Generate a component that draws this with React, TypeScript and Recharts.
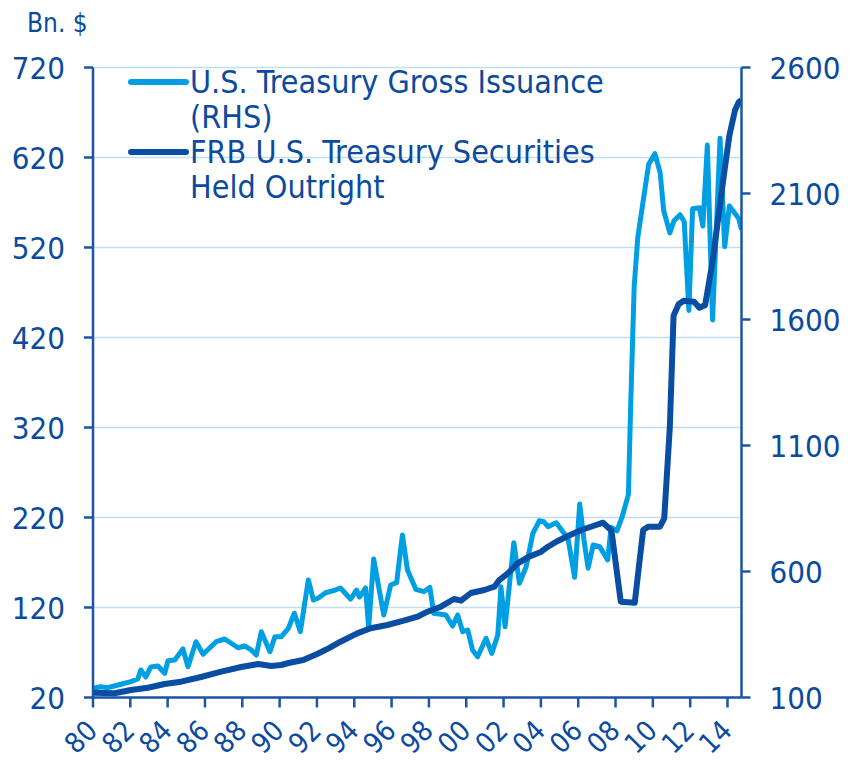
import React from 'react';
import { LineChart, Line, XAxis, YAxis, CartesianGrid, Legend } from 'recharts';

const FONT = "'DejaVu Sans Condensed', 'DejaVu Sans', sans-serif";
const TEXT = '#0b4a9e';
const AXIS = '#1a56a5';
const LIGHT = '#009fe3';
const DARK = '#0a4ea3';
const GRID = '#bfe0f2';

// x-axis ticks (years) and labels
const xTicks = [1980, 1982, 1984, 1986, 1988, 1990, 1992, 1994, 1996, 1998, 2000, 2002, 2004, 2006, 2008, 2010, 2012, 2014];
const leftTicks = [20, 120, 220, 320, 420, 520, 620, 720];
const rightTicks = [100, 600, 1100, 1600, 2100, 2600];

// U.S. Treasury Gross Issuance
const issuanceYears = [
  1980.0, 1980.41, 1980.79, 1981.15, 1981.49, 1982.03, 1982.4, 1982.56, 1982.83, 1983.1,
  1983.48, 1983.84, 1984.02, 1984.38, 1984.82, 1985.09, 1985.52, 1985.9, 1986.6, 1987.06,
  1987.77, 1988.14, 1988.48, 1988.75, 1989.02, 1989.48, 1989.75, 1990.09, 1990.47, 1990.79,
  1991.11, 1991.54, 1991.81, 1992.08, 1992.46, 1992.89, 1993.26, 1993.8, 1994.12, 1994.28,
  1994.61, 1994.77, 1995.04, 1995.58, 1995.95, 1996.27, 1996.58, 1996.85, 1997.3, 1997.73,
  1998.05, 1998.26, 1998.91, 1999.27, 1999.54, 1999.81, 2000.08, 2000.34, 2000.61, 2001.06,
  2001.37, 2001.69, 2001.86, 2002.08, 2002.55, 2002.85, 2003.21, 2003.57, 2003.92, 2004.16,
  2004.38, 2004.82, 2005.18, 2005.45, 2005.81, 2006.08, 2006.31, 2006.53, 2006.8, 2007.15,
  2007.58, 2007.76, 2008.08, 2008.35, 2008.69, 2008.82, 2009.0, 2009.19, 2009.46, 2009.78,
  2010.11, 2010.39, 2010.58, 2010.91, 2011.13, 2011.46, 2011.68, 2011.93, 2012.13, 2012.5,
  2012.68, 2012.92, 2013.2, 2013.6, 2013.85, 2014.1, 2014.4, 2014.6, 2014.75,
];
const issuanceValues = [
  30.2, 32.0, 30.9, 32.8, 34.7, 37.6, 40.6, 50.6, 42.8, 53.9,
  55.0, 46.9, 60.9, 61.7, 73.9, 54.2, 82.0, 68.0, 82.0, 85.0,
  75.3, 77.2, 72.8, 67.2, 93.1, 70.9, 87.6, 87.6, 96.9, 113.6,
  93.1, 150.6, 128.3, 130.6, 136.4, 138.7, 141.7, 129.4, 139.4, 131.7,
  141.7, 97.2, 173.9, 111.7, 145.0, 147.6, 200.6, 161.7, 140.2, 137.6,
  142.4, 113.6, 111.7, 99.4, 111.7, 93.1, 95.0, 72.8, 65.3, 85.8,
  69.1, 89.4, 143.1, 98.7, 192.0, 146.9, 165.3, 202.4, 216.4, 215.3,
  209.8, 214.2, 204.2, 196.9, 153.6, 235.0, 195.0, 163.6, 189.4, 187.6,
  172.8, 209.1, 205.2, 220.6, 245.4, 350.5, 476.9, 530.6, 568.8, 612.8,
  624.2, 603.2, 561.1, 536.2, 549.6, 556.4, 548.9, 450.1, 563.0, 564.1,
  543.9, 633.8, 439.4, 641.4, 520.9, 566.0, 558.0, 552.0, 540.0,
];

// FRB U.S. Treasury Securities Held Outright
const holdingsYears = [
  1980.0, 1981.15, 1982.03, 1982.94, 1983.84, 1984.72, 1985.79, 1986.87, 1987.94, 1988.85,
  1989.55, 1990.09, 1990.47, 1991.27, 1992.01, 1992.62, 1993.26, 1994.16, 1994.88, 1995.77,
  1996.65, 1997.39, 1997.92, 1998.64, 1999.34, 1999.72, 2000.25, 2000.97, 2001.51, 2001.77,
  2002.23, 2002.76, 2003.3, 2004.02, 2004.38, 2004.82, 2005.45, 2006.17, 2006.8, 2007.33,
  2007.78, 2008.28, 2009.03, 2009.48, 2009.75, 2010.38, 2010.61, 2010.91, 2011.11, 2011.38,
  2011.65, 2012.21, 2012.49, 2012.8, 2013.2, 2013.5, 2013.8, 2014.1, 2014.4, 2014.6, 2014.75,
];
const holdingsValues = [
  119, 116.7, 129.8, 138.9, 153.6, 162.7, 181.3, 202.4, 221.0, 232.9,
  225.0, 229.0, 236.9, 248.8, 272.6, 295.2, 321.4, 354.7, 374.6, 387.7,
  404.7, 420.6, 440.5, 460.3, 490.9, 484.1, 514.7, 526.6, 539.7, 566.2,
  592.8, 632.5, 656.3, 678.5, 698.4, 718.2, 740.8, 764.6, 780.5, 793.6,
  762.7, 480.1, 476.2, 764.6, 777.7, 777.7, 811.1, 1174.5, 1615.4, 1660.6,
  1674.5, 1670.1, 1647.1, 1656.7, 1830, 2000, 2170, 2330, 2430, 2462, 2470,
];

const issuanceName = ['U.S. Treasury Gross Issuance', '(RHS)'];
const holdingsName = ['FRB U.S. Treasury Securities', 'Held Outright'];

const issuanceData = issuanceYears.map((year, i) => ({ year, value: issuanceValues[i] }));
const holdingsData = holdingsYears.map((year, i) => ({ year, value: holdingsValues[i] }));

const fmtYear = (v: number) => String(Math.round(v) % 100).padStart(2, '0');

const XTick = (props: any) => {
  const { x, y, payload } = props;
  const ax = x + 6;
  const ay = y + 25;
  return (
    <text
      x={ax}
      y={ay}
      transform={`rotate(-45, ${ax}, ${ay})`}
      textAnchor="end"
      fill={TEXT}
      fontSize={28}
      fontFamily={FONT}
    >
      {fmtYear(payload.value)}
    </text>
  );
};

const legendItems = [
  { lines: issuanceName, color: LIGHT, y: 82 },
  { lines: holdingsName, color: DARK, y: 152 },
];

const LegendContent = () => (
  <svg width={851} height={220} style={{ display: 'block' }}>
    {legendItems.map((it, i) => (
      <g key={i}>
        <line x1={131} x2={186} y1={it.y} y2={it.y} stroke={it.color} strokeWidth={6} strokeLinecap="round" />
        {it.lines.map((t, j) => (
          <text key={j} x={190} y={it.y + 11 + j * 35} fill={TEXT} fontSize={32} fontFamily={FONT}>
            {t}
          </text>
        ))}
      </g>
    ))}
  </svg>
);

export default function App() {
  return (
    <div style={{ position: 'absolute', left: 0, top: 0, width: 851, height: 762, background: '#fff' }}>
      <div
        style={{
          position: 'absolute',
          left: 27,
          top: 8,
          fontFamily: FONT,
          fontSize: 26,
          color: TEXT,
          lineHeight: '30px',
          whiteSpace: 'nowrap',
        }}
      >
        Bn. $
      </div>
      <LineChart
        width={851}
        height={762}
        margin={{ top: 67.5, right: 0, bottom: 0, left: 0 }}
      >
        <CartesianGrid yAxisId="left" horizontal vertical={false} stroke={GRID} strokeWidth={1.3} />
        <XAxis
          dataKey="year"
          type="number"
          domain={[1980, 2014.75]}
          ticks={xTicks}
          allowDataOverflow
          height={64.5}
          tickSize={10}
          tickMargin={0}
          interval={0}
          axisLine={{ stroke: AXIS, strokeWidth: 2.5 }}
          tickLine={{ stroke: AXIS, strokeWidth: 2.5 }}
          tick={<XTick />}
        />
        <YAxis
          yAxisId="left"
          orientation="left"
          domain={[20, 720]}
          ticks={leftTicks}
          width={93}
          tickSize={9}
          tickMargin={19}
          interval={0}
          axisLine={{ stroke: AXIS, strokeWidth: 2.5 }}
          tickLine={{ stroke: AXIS, strokeWidth: 2.5 }}
          tick={{ fill: TEXT, fontSize: 31, fontFamily: FONT }}
        />
        <YAxis
          yAxisId="right"
          orientation="right"
          domain={[100, 2600]}
          ticks={rightTicks}
          width={109.5}
          tickSize={9}
          tickMargin={19}
          interval={0}
          axisLine={{ stroke: AXIS, strokeWidth: 2.5 }}
          tickLine={{ stroke: AXIS, strokeWidth: 2.5 }}
          tick={{ fill: TEXT, fontSize: 31, fontFamily: FONT }}
        />
        <Legend
          layout="horizontal"
          verticalAlign="middle"
          align="center"
          wrapperStyle={{ position: 'absolute', left: 0, top: 0, width: 851, height: 220 }}
          content={<LegendContent />}
        />
        <Line
          yAxisId="left"
          data={issuanceData}
          dataKey="value"
          name={issuanceName.join(' ')}
          type="linear"
          stroke={LIGHT}
          strokeWidth={5}
          dot={false}
          activeDot={false}
          strokeLinejoin="round"
          isAnimationActive={false}
        />
        <Line
          yAxisId="right"
          data={holdingsData}
          dataKey="value"
          name={holdingsName.join(' ')}
          type="linear"
          stroke={DARK}
          strokeWidth={6}
          dot={false}
          activeDot={false}
          strokeLinejoin="round"
          isAnimationActive={false}
        />
      </LineChart>
    </div>
  );
}
